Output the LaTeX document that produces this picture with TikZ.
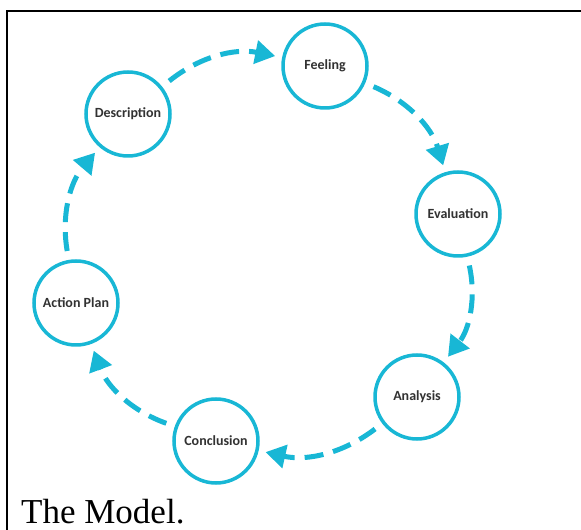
\documentclass[tikz,border=0pt]{standalone}
\usepackage{fontspec}
\setmainfont{Liberation Serif}
\newfontfamily\labelfont{Carlito}
\usetikzlibrary{arrows.meta}
\definecolor{ringcyan}{RGB}{24,183,213}
\definecolor{labelgray}{RGB}{50,50,50}
\begin{document}
\begin{tikzpicture}[x=1pt,y=1pt,
  stage/.style={circle, draw=ringcyan, line width=3.5pt, minimum size=84pt,
    inner sep=0pt, fill=white, text=labelgray,
    font=\labelfont\bfseries\fontsize{14}{16}\selectfont},
  flow/.style={draw=ringcyan, line width=5pt, dash pattern=on 19pt off 10pt,
    -{Triangle[length=20pt,width=23pt]}, shorten <=9pt, shorten >=7pt},
  rule/.style={line width=2.4pt, black}]
\useasboundingbox (0,0) rectangle (581,530);

% cell border
\draw[rule] (7,0) -- (7,519) -- (21,519);
\draw[line width=1.2pt] (21,519) -- (520,519);
\draw[rule] (520,519) -- (581,519);

% the six stages of the cycle
\node[stage] (feel) at (325,464) {Feeling};
\node[stage] (eval) at (458,316) {Evaluation};
\node[stage] (anal) at (417,133) {Analysis};
\node[stage] (conc) at (216,89)  {Conclusion};
\node[stage] (act)  at (76,227)  {Action Plan};
\node[stage] (desc) at (128,416) {Description};

% dashed arrows running clockwise round the cycle
\draw[flow] (desc) to[bend left=25] (feel);
\draw[flow] (feel) to[bend left=25] (eval);
\draw[flow] (eval) to[bend left=25] (anal);
\draw[flow] (anal) to[bend left=25] (conc);
\draw[flow] (conc) to[bend left=25] (act);
\draw[flow] (act)  to[bend left=25] (desc);

% caption
\node[anchor=base west, inner sep=0pt, font=\fontsize{35}{40}\selectfont] (cap) at (21,6.5) {The Model.};
\end{tikzpicture}
\end{document}
